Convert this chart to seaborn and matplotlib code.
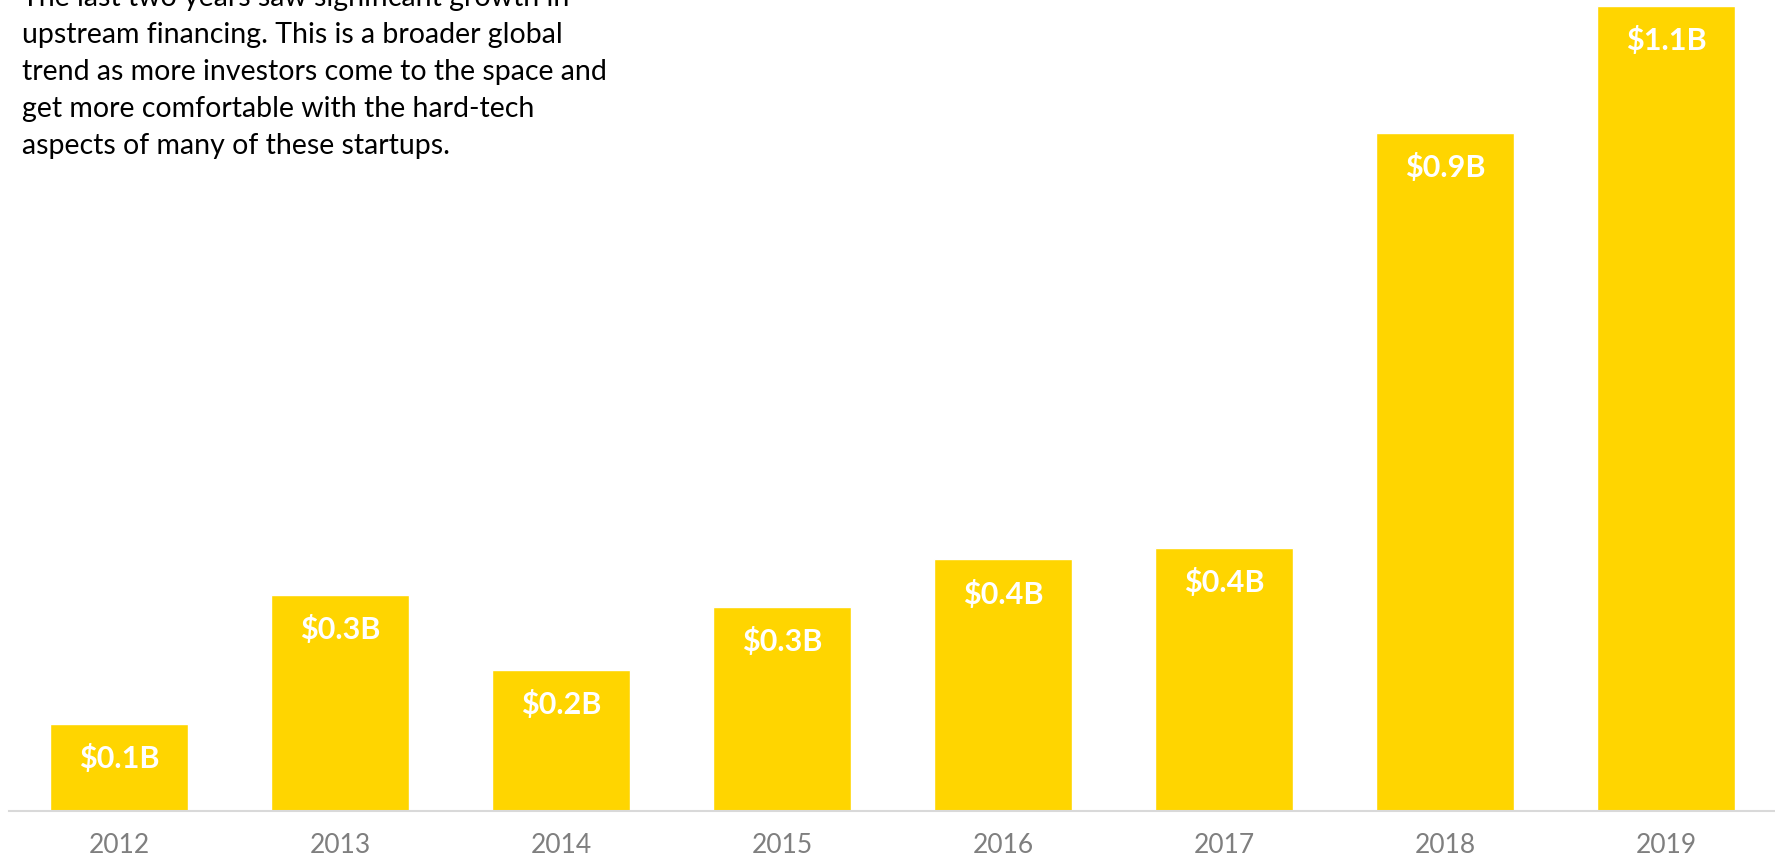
import matplotlib
matplotlib.use("Agg")
import matplotlib.pyplot as plt
import seaborn as sns
import pandas as pd

years = ["2012", "2013", "2014", "2015", "2016", "2017", "2018", "2019"]
values = [0.121, 0.301, 0.197, 0.285, 0.351, 0.367, 0.946, 1.123]
value_labels = ["$0.1B", "$0.3B", "$0.2B", "$0.3B", "$0.4B", "$0.4B", "$0.9B", "$1.1B"]
note_lines = [
    "The last two years saw significant growth in",
    "upstream financing. This is a broader global",
    "trend as more investors come to the space and",
    "get more comfortable with the hard-tech",
    "aspects of many of these startups.",
]

BAR_COLOR = "#FFD500"
FONT = ["Lato", "DejaVu Sans"]

sns.set_theme(style="white")
plt.rcParams["font.family"] = FONT

W, H = 1775, 858
fig = plt.figure(figsize=(W / 100, H / 100), dpi=100)
ax = fig.add_axes([8.5 / W, 47 / H, 1768 / W, 811 / H])

df = pd.DataFrame({"year": years, "value": values})
sns.barplot(data=df, x="year", y="value", color=BAR_COLOR, saturation=1,
            width=0.62, ax=ax)

ax.set_xlim(-0.5, len(years) - 0.5)
ax.set_ylim(0, 1.131)
ax.set_xlabel("")
ax.set_ylabel("")
ax.set_yticks([])
for s in ["top", "left", "right"]:
    ax.spines[s].set_visible(False)
ax.spines["bottom"].set_color("#D9D9D9")
ax.spines["bottom"].set_linewidth(1.5)
ax.tick_params(axis="x", length=0, pad=16, labelsize=19, labelcolor="#7F7F7F")

for i, (v, lab) in enumerate(zip(values, value_labels)):
    ax.annotate(lab, xy=(i, v), xytext=(0, -25), textcoords="offset points",
                ha="center", va="center", color="white", fontsize=22,
                fontweight="bold")

for i, line in enumerate(note_lines):
    fig.text(22 / W, 1 - (6 + 37 * i) / H, line, ha="left", va="baseline",
             fontsize=20.5, color="black")

fig.savefig("out.png", dpi=100)
